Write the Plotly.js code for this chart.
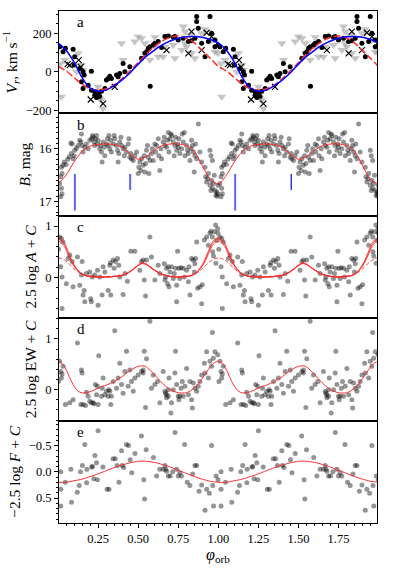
<!DOCTYPE html>
<html><head><meta charset="utf-8">
<script src="https://cdn.plot.ly/plotly-3.0.1.min.js"></script>
<style>html,body{margin:0;padding:0;background:#fff}#chart{width:397px;height:569px}</style>
</head><body><div id="chart"></div>
<script>
// ---------- Panel a: radial velocities (one orbital period, repeated at phase+1) ----------
const aDotPhase = [0.010,0.031,0.046,0.094,0.104,0.100,0.135,0.156,0.163,0.208,0.146,0.156,0.188,0.208,0.229,0.229,0.240,0.250,0.260,0.271,0.292,0.313,0.302,0.333,0.323,0.365,0.385,0.406,0.375,0.417,0.448,0.575,0.521,0.542,0.552,0.563,0.573,0.594,0.604,0.625,0.646,0.667,0.688,0.719,0.729,0.750,0.781,0.813,0.833,0.854,0.865,0.865,0.875,0.896,0.917,0.938,0.948,0.958,0.979,0.998,0.979];
const aDotV = [130,104,122,117,78,35,17,0,-17,3,-52,-87,-70,-96,-104,-122,-134,-113,-127,-101,-87,-35,-43,-35,-23,-17,-9,43,-26,0,26,-75,70,96,104,122,130,139,148,157,127,183,186,179,183,165,174,157,162,174,287,261,226,148,78,157,287,200,130,139,165];
const aCrossPhase = [0.073,0.129,0.142,0.204,0.281,0.354,0.677,0.813,0.833,0.896,0.927,0.958,0.060];
const aCrossV = [35,61,26,-144,-165,-78,113,96,209,113,203,183,40];
const aTriPhase = [0.017,0.021,0.042,0.125,0.146,0.156,0.115,0.250,0.260,0.271,0.281,0.396,0.406,0.479,0.500,0.521,0.542,0.573,0.604,0.625,0.656,0.667,0.677,0.719,0.729,0.781,0.792,0.802,0.771,0.833,0.854,0.896,0.917,0.958,0.979,0.998,0.792,0.823,0.546,0.604];
const aTriV = [43,-130,61,96,35,9,0,-78,-139,-148,-191,148,61,157,183,174,148,61,179,78,78,130,186,139,70,235,209,130,113,96,70,200,221,165,104,96,148,191,96,130];
const aFitPhase = [0,0.05,0.10,0.15,0.20,0.25,0.30,0.35,0.40,0.45,0.50,0.55,0.60,0.65,0.70,0.75,0.80,0.85,0.90,0.95,1.00];
const aFitBlue = [150,112,50,-30,-85,-100,-95,-72,-42,-5,40,80,112,140,160,174,182,184,180,168,150];
const aFitRed = [28,5,-30,-65,-88,-95,-88,-68,-35,5,48,92,130,160,180,186,176,150,110,70,28];

// ---------- Panel b: B magnitude ----------
const bPoints = [[0.021,16.35],[0.025,16.47],[0.017,16.53],[0.010,16.66],[0.021,16.75],[0.025,16.85],[0.031,16.31],[0.038,16.25],[0.017,16.91],[0.050,16.30],[0.060,16.20],[0.070,16.15],[0.080,15.89],[0.083,16.09],[0.088,15.91],[0.094,16.19],[0.100,16.13],[0.104,16.03],[0.115,15.99],[0.125,15.94],[0.135,15.84],[0.146,15.72],[0.142,15.87],[0.150,15.94],[0.156,16.06],[0.167,15.97],[0.177,15.91],[0.188,16.00],[0.198,15.84],[0.208,15.81],[0.215,15.75],[0.219,15.78],[0.225,15.87],[0.229,15.94],[0.233,15.81],[0.240,15.75],[0.246,15.91],[0.250,15.84],[0.260,16.00],[0.267,15.94],[0.271,16.06],[0.275,16.25],[0.281,15.87],[0.288,15.97],[0.292,16.13],[0.302,15.91],[0.308,15.81],[0.313,15.94],[0.317,15.75],[0.323,16.00],[0.329,15.84],[0.333,16.06],[0.344,15.91],[0.350,15.75],[0.354,15.81],[0.365,15.94],[0.371,16.03],[0.375,16.25],[0.379,16.09],[0.385,15.87],[0.392,15.78],[0.396,15.94],[0.406,16.00],[0.413,16.13],[0.417,15.97],[0.427,16.06],[0.438,15.91],[0.442,15.81],[0.448,16.16],[0.454,16.09],[0.458,16.19],[0.469,16.22],[0.479,16.13],[0.490,16.06],[0.500,16.47],[0.504,16.35],[0.510,16.25],[0.517,16.41],[0.521,16.19],[0.531,16.31],[0.538,16.13],[0.542,16.44],[0.546,16.28],[0.552,16.03],[0.558,15.94],[0.563,16.16],[0.567,16.47],[0.573,16.22],[0.583,16.09],[0.588,16.00],[0.594,16.22],[0.604,15.91],[0.608,16.06],[0.615,15.94],[0.625,15.81],[0.629,16.13],[0.635,16.41],[0.642,16.00],[0.646,16.19],[0.656,15.87],[0.663,15.78],[0.667,15.94],[0.677,15.97],[0.683,15.84],[0.688,15.69],[0.692,16.06],[0.698,15.81],[0.704,15.72],[0.708,15.75],[0.719,15.87],[0.725,16.13],[0.729,15.94],[0.733,15.78],[0.740,16.03],[0.746,15.91],[0.750,15.97],[0.754,15.81],[0.760,16.09],[0.771,16.00],[0.775,15.72],[0.781,15.87],[0.788,15.69],[0.792,16.13],[0.802,15.94],[0.808,16.03],[0.813,16.09],[0.823,16.22],[0.829,16.00],[0.833,15.84],[0.838,15.94],[0.844,16.06],[0.850,16.44],[0.854,16.13],[0.858,15.91],[0.865,16.19],[0.875,15.53],[0.885,16.06],[0.896,16.25],[0.917,16.35],[0.921,16.53],[0.927,16.63],[0.933,16.57],[0.938,16.47],[0.948,16.69],[0.954,16.79],[0.958,16.60],[0.963,16.75],[0.969,16.66],[0.975,16.50],[0.979,16.79],[0.990,16.82],[0.996,16.85],[0.998,16.69],[0.948,16.03],[0.954,16.13],[0.963,16.22],[0.985,16.88],[0.992,16.90]];
const bFitPhase = [0,0.05,0.10,0.15,0.20,0.25,0.30,0.35,0.40,0.45,0.50,0.55,0.60,0.65,0.70,0.75,0.80,0.85,0.90,0.95,1.00];
const bFit = [16.67,16.50,16.25,16.05,15.95,15.92,15.91,15.92,15.97,16.10,16.20,16.15,16.03,15.94,15.91,15.91,15.94,16.05,16.32,16.58,16.67];
const bTickPhase = [0.105,0.450,1.105,1.455];
const bTickTop = [16.48,16.48,16.48,16.48];
const bTickBottom = [17.17,16.78,17.17,16.78];

// ---------- Panel c: 2.5 log A + C ----------
const cPoints = [[0.010,0.79],[0.021,0.76],[0.017,0.21],[0.031,0.69],[0.025,0.01],[0.025,-0.60],[0.052,-0.12],[0.063,0.37],[0.073,0.44],[0.088,0.31],[0.094,-0.18],[0.121,0.40],[0.135,-0.15],[0.146,0.05],[0.150,0.31],[0.156,-0.34],[0.163,-0.25],[0.167,-0.47],[0.177,0.08],[0.198,0.11],[0.204,-0.41],[0.208,-0.47],[0.213,0.01],[0.229,0.05],[0.246,0.14],[0.250,-0.54],[0.260,0.01],[0.275,-0.34],[0.281,0.21],[0.292,0.11],[0.313,-0.25],[0.323,0.24],[0.327,0.29],[0.329,-0.34],[0.344,0.34],[0.350,0.18],[0.358,0.31],[0.371,0.37],[0.379,0.24],[0.385,0.01],[0.406,-0.33],[0.417,0.08],[0.433,-0.07],[0.454,0.51],[0.479,0.51],[0.510,0.14],[0.521,0.31],[0.531,0.34],[0.538,-0.05],[0.546,-0.36],[0.552,0.34],[0.573,0.79],[0.583,0.40],[0.604,-0.05],[0.625,0.24],[0.635,0.08],[0.663,0.27],[0.667,-0.05],[0.677,0.18],[0.671,0.01],[0.683,-0.12],[0.688,0.21],[0.692,-0.18],[0.698,0.11],[0.708,0.21],[0.719,-0.02],[0.725,0.08],[0.733,0.18],[0.740,-0.15],[0.740,-0.47],[0.746,0.51],[0.754,0.18],[0.760,-0.02],[0.767,0.19],[0.781,0.18],[0.788,0.01],[0.802,0.14],[0.813,-0.08],[0.817,0.21],[0.823,-0.34],[0.833,0.37],[0.844,0.34],[0.850,0.11],[0.854,0.27],[0.858,0.37],[0.865,0.69],[0.871,-0.21],[0.885,-0.18],[0.896,-0.51],[0.900,-0.14],[0.913,0.73],[0.927,0.79],[0.938,0.63],[0.948,0.86],[0.954,0.90],[0.963,0.79],[0.975,0.89],[0.983,1.02],[0.996,0.95],[0.998,0.86],[0.965,0.50],[0.970,0.42],[0.985,0.28],[0.990,0.72],[0.003,0.55]];
const cFitPhase = [0,0.02,0.04,0.06,0.08,0.10,0.12,0.14,0.16,0.18,0.20,0.25,0.30,0.35,0.40,0.45,0.50,0.525,0.55,0.60,0.65,0.70,0.75,0.80,0.82,0.84,0.86,0.88,0.90,0.92,0.94,0.96,0.98,1.00];
const cFit1 = [0.75,0.72,0.64,0.50,0.36,0.24,0.15,0.09,0.05,0.03,0.02,0.01,0.01,0.02,0.04,0.12,0.24,0.28,0.26,0.15,0.06,0.02,0.01,0.02,0.03,0.05,0.09,0.15,0.24,0.36,0.50,0.64,0.72,0.75];
const cFit2 = [0.78,0.75,0.67,0.53,0.38,0.25,0.16,0.09,0.05,0.03,0.02,0.01,0.01,0.02,0.04,0.12,0.24,0.29,0.26,0.15,0.06,0.02,0.01,0.02,0.03,0.05,0.09,0.16,0.25,0.38,0.53,0.67,0.75,0.78];
const cFit3 = [0.71,0.68,0.60,0.47,0.33,0.22,0.14,0.08,0.05,0.03,0.02,0.01,0.01,0.02,0.04,0.11,0.23,0.27,0.25,0.14,0.06,0.02,0.01,0.02,0.03,0.05,0.08,0.14,0.22,0.33,0.47,0.60,0.68,0.71];
const cFitDash = [0.38,0.37,0.34,0.29,0.23,0.17,0.12,0.08,0.05,0.04,0.03,0.02,0.02,0.03,0.05,0.12,0.24,0.28,0.26,0.15,0.07,0.03,0.02,0.03,0.04,0.05,0.08,0.12,0.17,0.23,0.29,0.34,0.37,0.38];

// ---------- Panel d: 2.5 log EW + C ----------
const dPoints = [[0.017,0.36],[0.025,0.31],[0.021,0.23],[0.010,0.56],[0.031,0.46],[0.046,-0.29],[0.073,-0.26],[0.094,-0.20],[0.121,0.92],[0.146,0.39],[0.150,0.33],[0.142,-0.29],[0.156,-0.29],[0.171,-0.31],[0.177,-0.05],[0.188,-0.13],[0.198,-0.23],[0.208,-0.26],[0.219,-0.26],[0.225,-0.28],[0.233,0.10],[0.246,0.07],[0.240,-0.10],[0.250,-0.29],[0.254,0.67],[0.271,-0.13],[0.275,0.03],[0.281,0.23],[0.292,-0.10],[0.302,-0.03],[0.313,-0.13],[0.317,0.00],[0.323,-0.03],[0.329,-0.29],[0.333,-0.13],[0.344,0.16],[0.354,1.16],[0.365,0.03],[0.375,0.23],[0.385,0.52],[0.396,0.10],[0.406,-0.07],[0.417,0.36],[0.427,0.76],[0.438,0.07],[0.448,0.39],[0.458,0.16],[0.469,-0.03],[0.479,0.23],[0.500,0.29],[0.521,0.36],[0.531,0.39],[0.531,0.33],[0.538,0.76],[0.546,-0.35],[0.552,0.61],[0.573,1.35],[0.583,0.03],[0.594,0.29],[0.604,0.10],[0.621,0.16],[0.635,-0.26],[0.656,0.36],[0.667,-0.03],[0.671,-0.07],[0.677,-0.10],[0.677,-0.16],[0.688,-0.13],[0.688,0.00],[0.692,0.23],[0.704,-0.46],[0.708,-0.26],[0.719,0.00],[0.729,0.33],[0.733,0.76],[0.740,0.10],[0.750,-0.13],[0.754,-0.20],[0.760,-0.13],[0.767,0.03],[0.775,0.16],[0.781,-0.13],[0.792,0.07],[0.802,0.42],[0.813,-0.10],[0.823,0.16],[0.833,-0.20],[0.838,-0.36],[0.844,0.13],[0.854,0.03],[0.865,-0.03],[0.875,0.07],[0.885,0.16],[0.896,0.29],[0.913,0.52],[0.917,0.33],[0.927,0.75],[0.938,0.23],[0.948,0.56],[0.958,0.46],[0.963,1.13],[0.969,0.62],[0.979,0.75],[0.996,0.69],[0.004,0.16]];
const dFitPhase = [0,0.025,0.05,0.075,0.10,0.125,0.15,0.175,0.20,0.25,0.30,0.35,0.40,0.45,0.50,0.53,0.55,0.60,0.65,0.70,0.75,0.80,0.85,0.90,0.95,0.975,1.00];
const dFit = [0.56,0.52,0.40,0.22,0.07,-0.03,-0.065,-0.06,-0.04,0.03,0.09,0.16,0.26,0.38,0.46,0.47,0.45,0.30,0.13,0.00,-0.06,-0.06,0.03,0.22,0.45,0.53,0.56];

// ---------- Panel e: -2.5 log F + C ----------
const ePhase = [0.017,0.017,0.017,0.045,0.08,0.084,0.12,0.132,0.14,0.152,0.167,0.178,0.18,0.21,0.215,0.223,0.23,0.24,0.246,0.25,0.28,0.306,0.318,0.343,0.357,0.369,0.38,0.396,0.40,0.41,0.427,0.44,0.45,0.46,0.48,0.52,0.535,0.54,0.55,0.595,0.615,0.635,0.656,0.667,0.672,0.677,0.688,0.70,0.715,0.73,0.74,0.75,0.76,0.77,0.79,0.806,0.823,0.84,0.854,0.865,0.88,0.896,0.917,0.927,0.944,0.958,0.965,0.97,0.986,0.998];
const eVal = [0.0,0.33,0.65,0.20,-0.05,0.58,0.39,0.26,0.0,-0.12,-0.52,0.21,-0.05,-0.09,-0.10,0.13,-0.31,-0.17,0.15,-0.78,-0.09,0.33,0.33,-0.25,-0.25,-0.12,0.20,-0.40,-0.12,-0.08,-0.52,-0.50,-0.23,0.02,-0.35,-0.68,0.15,0.52,-0.42,-0.27,0.08,-0.05,-0.05,-0.12,-0.05,-0.01,0.08,0.08,0.0,-0.75,-0.05,0.08,0.02,0.08,-0.52,0.20,0.26,0.04,-0.12,-0.12,0.37,0.25,0.73,0.33,0.41,-0.5,0.26,0.65,0.08,0.15];
const eFitPhase = [0,0.05,0.10,0.15,0.20,0.25,0.30,0.35,0.40,0.45,0.50,0.55,0.60,0.65,0.70,0.75,0.80,0.85,0.90,0.95,1.00];
const eFit = [0.20,0.20,0.17,0.14,0.09,0.04,-0.02,-0.08,-0.13,-0.17,-0.20,-0.20,-0.18,-0.14,-0.09,-0.03,0.03,0.09,0.14,0.18,0.20];

const phaseTicks = [0.25,0.50,0.75,1.00,1.25,1.50,1.75];

// ---------- helpers: fold one period into two ----------
const twoP = p => p.concat(p.map(v => v + 1));
const twoV = v => v.concat(v);
const twoFitP = p => p.concat(p.slice(1).map(v => v + 1));
const twoFitV = v => v.concat(v.slice(1));
const grey = 'rgba(0,0,0,0.42)';
const red = '#ff2a2a';

function pts(p, v, xa, ya, marker) {
  return {type:'scatter', mode:'markers', x:twoP(p), y:twoV(v), xaxis:xa, yaxis:ya, marker:marker, hoverinfo:'skip', showlegend:false};
}
function fit(p, v, xa, ya, line) {
  return {type:'scatter', mode:'lines', x:twoFitP(p), y:twoFitV(v), xaxis:xa, yaxis:ya, line:Object.assign({shape:'spline', smoothing:0.8}, line), hoverinfo:'skip', showlegend:false};
}
const greyDot = {size:5, color:grey, line:{width:0}};

const traces = [];
// panel a (top) -> x5/y5
traces.push(pts(aTriPhase, aTriV, 'x5', 'y5', {symbol:'triangle-down', size:8, color:'rgba(150,150,150,0.55)', line:{width:0}}));
traces.push(pts(aDotPhase, aDotV, 'x5', 'y5', {size:5, color:'#000', line:{width:0}}));
traces.push(pts(aCrossPhase, aCrossV, 'x5', 'y5', {symbol:'x-thin-open', size:6, color:'#000', line:{width:1.2, color:'#000'}}));
traces.push(fit(aFitPhase, aFitRed, 'x5', 'y5', {color:red, width:1.5, dash:'7px,3px'}));
traces.push(fit(aFitPhase, aFitBlue, 'x5', 'y5', {color:'#0000ff', width:1.5}));
// panel b -> x4/y4
traces.push(pts(bPoints.map(d=>d[0]), bPoints.map(d=>d[1]), 'x4', 'y4', greyDot));
traces.push(fit(bFitPhase, bFit, 'x4', 'y4', {color:red, width:1}));
bTickPhase.forEach((ph, i) => {
  traces.push({type:'scatter', mode:'lines', x:[ph, ph], y:[bTickTop[i], bTickBottom[i]], xaxis:'x4', yaxis:'y4',
    line:{color: i === 3 ? '#1a1ad8' : 'rgba(70,70,240,0.85)', width: i === 3 ? 1.3 : 2}, hoverinfo:'skip', showlegend:false});
});
// panel c -> x3/y3
traces.push(pts(cPoints.map(d=>d[0]), cPoints.map(d=>d[1]), 'x3', 'y3', greyDot));
traces.push(fit(cFitPhase, cFitDash, 'x3', 'y3', {color:red, width:0.9, dash:'4px,2px'}));
traces.push(fit(cFitPhase, cFit3, 'x3', 'y3', {color:red, width:0.8}));
traces.push(fit(cFitPhase, cFit2, 'x3', 'y3', {color:red, width:0.8}));
traces.push(fit(cFitPhase, cFit1, 'x3', 'y3', {color:red, width:0.8}));
// panel d -> x2/y2
traces.push(pts(dPoints.map(d=>d[0]), dPoints.map(d=>d[1]), 'x2', 'y2', greyDot));
traces.push(fit(dFitPhase, dFit, 'x2', 'y2', {color:red, width:1}));
// panel e -> x/y
traces.push(pts(ePhase, eVal, 'x', 'y', greyDot));
traces.push(fit(eFitPhase, eFit, 'x', 'y', {color:red, width:1}));

const font = {family:'"Liberation Serif", "DejaVu Serif", serif', size:12, color:'#000'};
const xRange = [0.006, 1.99];
function xax(anchor, labels) {
  const ax = {domain:[0,1], range:xRange, anchor:anchor, showline:true, mirror:true, linecolor:'#000', linewidth:1,
    showgrid:false, zeroline:false, tickvals:phaseTicks, ticktext:phaseTicks.map(v=>v.toFixed(2)),
    ticks: labels ? 'outside' : '', ticklen:4, tickcolor:'#000', showticklabels:labels, tickfont:{size:12.5},
    minor: labels ? {dtick:0.05, tick0:0, ticks:'outside', ticklen:2, tickcolor:'#000'} : undefined};
  if (labels) ax.title = {text:'<i>φ</i><sub>orb</sub>', font:{size:16}, standoff:3};
  else ax.matches = 'x';
  return ax;
}
function yax(anchor, domain, range, tickvals, ticktext, minor, title) {
  return {domain:domain, range:range, anchor:anchor, showline:true, mirror:true, linecolor:'#000', linewidth:1,
    showgrid:false, zeroline:false, tickvals:tickvals, ticktext:ticktext, ticks:'outside', ticklen:4, tickcolor:'#000',
    tickfont:{size:12.5}, minor:{dtick:minor, ticks:'outside', ticklen:2, tickcolor:'#000'},
    title:{text:title, font:{size:15.5}, standoff:4}};
}

const layout = {
  width:397, height:569, margin:{l:59, r:20, t:11, b:46}, paper_bgcolor:'#fff', plot_bgcolor:'#fff', font:font,
  xaxis: xax('y', true),
  xaxis2: xax('y2', false),
  xaxis3: xax('y3', false),
  xaxis4: xax('y4', false),
  xaxis5: xax('y5', false),
  yaxis: yax('x', [0, 0.2], [0.975, -0.975], [-0.5, 0, 0.5], ['−0.5','0.0','0.5'], 0.1, '−2.5 log <i>F</i> + <i>C</i>'),
  yaxis2: yax('x2', [0.2, 0.4], [-0.61, 1.41], [0, 1], ['0','1'], 0.2, '2.5 log EW + <i>C</i>'),
  yaxis3: yax('x3', [0.4, 0.6], [-0.79, 1.2], [0, 1], ['0','1'], 0.2, '2.5 log <i>A</i> + <i>C</i>'),
  yaxis4: yax('x4', [0.6, 0.8], [17.27, 15.33], [16, 17], ['16','17'], 0.1, '<i>B</i>, mag'),
  yaxis5: yax('x5', [0.8, 1.0], [-216, 316], [-200, 0, 200], ['−200','0','200'], 50, '<i>V<sub>r</sub></i>, km s<sup>−1</sup>'),
  annotations: [['a','y5'],['b','y4'],['c','y3'],['d','y2'],['e','y']].map(([t, ya]) => ({
    text:t, xref: (ya === 'y' ? 'x' : 'x' + ya.slice(1)) + ' domain', yref: ya + ' domain', x:0.05, y:0.89,
    xanchor:'left', yanchor:'middle', showarrow:false, font:{size:15}}))
};

Plotly.newPlot('chart', traces, layout, {staticPlot:true, displayModeBar:false});
</script></body></html>
